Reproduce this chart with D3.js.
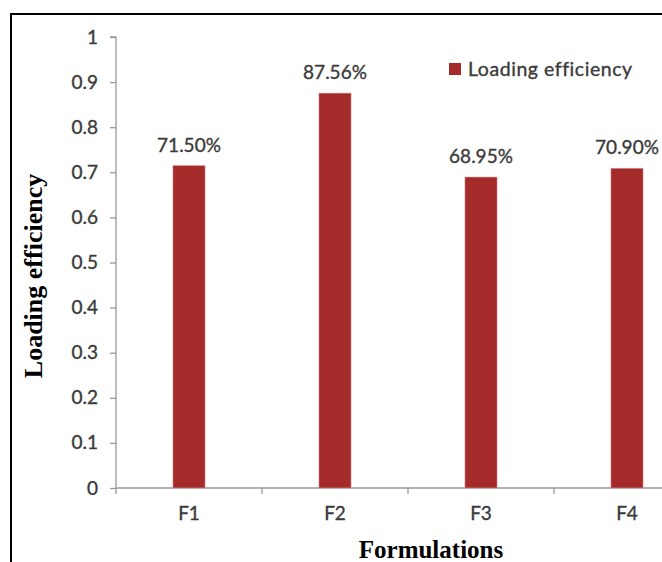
<!DOCTYPE html>
<html>
<head>
<meta charset="utf-8">
<script src="https://cdn.jsdelivr.net/npm/d3@7"></script>
<style>
  html, body { margin: 0; padding: 0; background: #fff; }
  svg { display: block; }
  .lbl { font-family: Lato, 'Open Sans', sans-serif; font-size: 19px; fill: #3a3a3a;
         stroke: #3a3a3a; stroke-width: 0.35px; }
</style>
</head>
<body>
<svg id="chart" width="662" height="562"></svg>
<script>
// Loading efficiency of each formulation
const categories = ["F1", "F2", "F3", "F4"];
const efficiency = [0.715, 0.8756, 0.6895, 0.709];
const valueLabels = ["71.50%", "87.56%", "68.95%", "70.90%"];
const yTicks = [0, 0.1, 0.2, 0.3, 0.4, 0.5, 0.6, 0.7, 0.8, 0.9, 1];
const seriesName = "Loading efficiency";

const svg = d3.select("#chart");
const W = 662, H = 562;
const titleFont = "'Liberation Serif', 'Times New Roman', serif";
const barColor = "#A52A2A";
const axisGray = "#9a9a9a";

// frame lines (top and left)
svg.append("line").attr("x1", 10).attr("x2", W).attr("y1", 14).attr("y2", 14)
  .attr("stroke", "#000").attr("stroke-width", 2);
svg.append("line").attr("x1", 11).attr("x2", 11).attr("y1", 13).attr("y2", H)
  .attr("stroke", "#000").attr("stroke-width", 2);

const x0 = 116, xEnd = 700, yTop = 37, yBase = 488;

const x = d3.scaleBand().domain(categories).range([x0, xEnd])
  .paddingInner(0.78).paddingOuter(0.39);
const y = d3.scaleLinear().domain([0, 1]).range([yBase, yTop]);

// y axis
const yAxis = svg.append("g").attr("transform", `translate(${x0},0)`)
  .call(d3.axisLeft(y).tickValues(yTicks).tickSize(6).tickPadding(12)
    .tickFormat(d => d === 0 || d === 1 ? String(d) : d3.format(".1f")(d)));
yAxis.select(".domain").attr("stroke", axisGray).attr("stroke-width", 1.3)
  .attr("d", `M-6,${yTop}H0V${yBase}`);
yAxis.selectAll(".tick line").attr("stroke", axisGray).attr("stroke-width", 1.3);
yAxis.selectAll(".tick text").attr("class", "lbl").attr("fill", null)
  .attr("font-family", null).attr("font-size", null);
yAxis.attr("font-family", null).attr("font-size", null);

// x axis with ticks at category boundaries
const step = x.step();
const boundaries = d3.range(categories.length + 1).map(i => x0 + i * step);
const xAxis = svg.append("g").attr("transform", `translate(0,${yBase})`)
  .call(d3.axisBottom(x).tickSize(0).tickPadding(19));
xAxis.attr("font-family", null).attr("font-size", null);
xAxis.select(".domain").attr("stroke", axisGray).attr("stroke-width", 1.3)
  .attr("d", `M${x0},0H${xEnd}`);
xAxis.selectAll(".tick text").attr("class", "lbl").attr("fill", null);
xAxis.selectAll("line.bound").data(boundaries).enter().append("line")
  .attr("class", "bound")
  .attr("x1", d => d).attr("x2", d => d).attr("y1", 0).attr("y2", 6)
  .attr("stroke", axisGray).attr("stroke-width", 1.3);

// bars
svg.append("g").selectAll("rect").data(categories).enter().append("rect")
  .attr("x", d => x(d))
  .attr("width", x.bandwidth())
  .attr("y", (d, i) => y(efficiency[i]))
  .attr("height", (d, i) => yBase - y(efficiency[i]))
  .attr("fill", barColor)
  .attr("stroke", "#d9a0a0").attr("stroke-width", 0.6);

// value labels
svg.append("g").selectAll("text").data(categories).enter().append("text")
  .attr("class", "lbl")
  .attr("x", d => x(d) + x.bandwidth() / 2)
  .attr("y", (d, i) => y(efficiency[i]) - 14)
  .attr("text-anchor", "middle")
  .text((d, i) => valueLabels[i]);

// legend
const lg = svg.append("g").attr("transform", "translate(449,63)");
lg.append("rect").attr("width", 12).attr("height", 12).attr("fill", barColor);
lg.append("text").attr("class", "lbl").attr("x", 19).attr("y", 6).attr("dy", "0.35em")
  .style("font-size", "19.5px").style("letter-spacing", "0.55px")
  .text(seriesName);

// axis titles
svg.append("text")
  .attr("transform", "translate(42,276) rotate(-90)")
  .attr("text-anchor", "middle")
  .style("font-family", titleFont).style("font-weight", "bold").style("font-size", "26px")
  .attr("fill", "#000")
  .text("Loading efficiency");
svg.append("text")
  .attr("x", 431).attr("y", 558)
  .attr("text-anchor", "middle")
  .style("font-family", titleFont).style("font-weight", "bold").style("font-size", "25px")
  .attr("fill", "#000")
  .text("Formulations");
</script>
</body>
</html>
